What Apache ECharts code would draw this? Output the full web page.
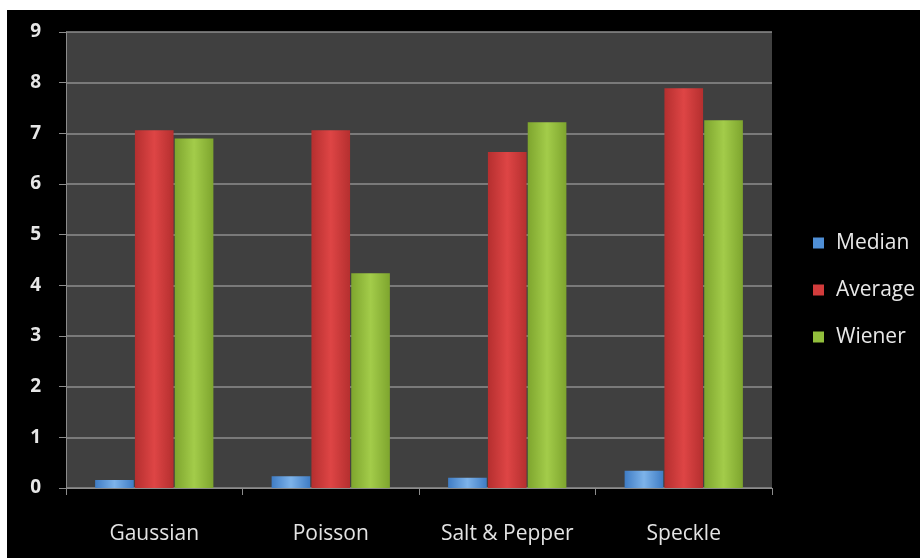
<!DOCTYPE html>
<html>
<head>
<meta charset="utf-8">
<script src="https://cdn.jsdelivr.net/npm/echarts@6/dist/echarts.min.js"></script>
<style>
  html, body { margin: 0; padding: 0; background: #ffffff; width: 920px; height: 558px; overflow: hidden; }
  #chart { position: absolute; left: 7px; top: 10px; width: 913px; height: 548px; background: #000; }
</style>
</head>
<body>
<div id="chart"></div>
<script>
const categories = ['Gaussian', 'Poisson', 'Salt & Pepper', 'Speckle'];
const seriesNames = ['Median', 'Average', 'Wiener'];
const median = [0.16, 0.23, 0.2, 0.34];
const average = [7.06, 7.06, 6.63, 7.89];
const wiener = [6.9, 4.24, 7.22, 7.26];
const yTicks = [0, 1, 2, 3, 4, 5, 6, 7, 8, 9];

const chart = echarts.init(document.getElementById('chart'));

const shade = (dark, light) => ({
  type: 'linear', x: 0, y: 0, x2: 1, y2: 0,
  colorStops: [
    { offset: 0, color: dark },
    { offset: 0.5, color: light },
    { offset: 1, color: dark }
  ]
});

const palette = [
  shade('#3f7cc4', '#7db3ea'),
  shade('#b52f2f', '#de4545'),
  shade('#7ea52e', '#a3cc4a')
];
const legendColors = ['#4f8fd6', '#d23c3c', '#92bf3c'];

const makeSeries = (name, data, i) => ({
  name: name,
  type: 'bar',
  data: data,
  barGap: '3%',
  barCategoryGap: '33%',
  itemStyle: { color: palette[i] },
  emphasis: { disabled: true }
});

const option = {
  backgroundColor: '#000',
  animation: false,
  textStyle: { fontFamily: 'Open Sans' },
  legend: {
    orient: 'vertical',
    left: 806,
    top: 221,
    padding: 0,
    itemWidth: 11,
    itemHeight: 11,
    itemGap: 23,
    icon: 'rect',
    data: seriesNames.map((n, i) => ({ name: n, itemStyle: { color: legendColors[i] } })),
    textStyle: { color: '#e8e8e8', fontSize: 21, lineHeight: 24, padding: [0, 0, 0, 7] }
  },
  grid: {
    left: 59,
    top: 22,
    right: 148,
    bottom: 70,
    show: true,
    backgroundColor: '#404040',
    borderWidth: 0
  },
  xAxis: {
    type: 'category',
    data: categories,
    axisLine: { lineStyle: { color: '#8c8c8c', width: 1 } },
    axisTick: { show: true, length: 7, lineStyle: { color: '#8c8c8c' } },
    axisLabel: { color: '#e4e4e4', fontSize: 21, margin: 36 }
  },
  yAxis: {
    type: 'value',
    min: yTicks[0],
    max: yTicks[yTicks.length - 1],
    interval: 1,
    axisLine: { show: true, lineStyle: { color: '#8c8c8c', width: 1 } },
    axisTick: { show: true, length: 7, lineStyle: { color: '#8c8c8c' } },
    axisLabel: { color: '#e6e6e6', fontSize: 19, fontWeight: 'bold', margin: 25 },
    splitLine: { lineStyle: { color: '#8e8e8e', width: 1.5 } }
  },
  series: [
    makeSeries(seriesNames[0], median, 0),
    makeSeries(seriesNames[1], average, 1),
    makeSeries(seriesNames[2], wiener, 2)
  ]
};

chart.setOption(option);
</script>
</body>
</html>
